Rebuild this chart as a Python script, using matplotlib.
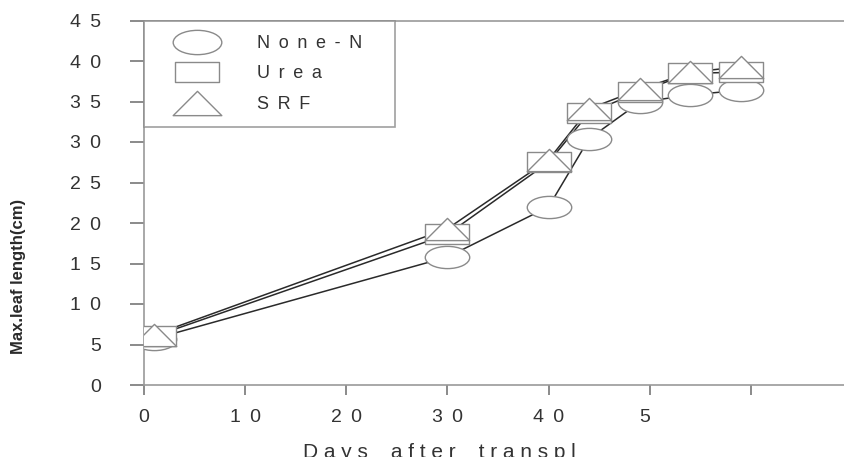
import matplotlib
matplotlib.use("Agg")
import matplotlib.pyplot as plt
from matplotlib.path import Path
from matplotlib.transforms import Affine2D
from matplotlib.lines import Line2D

# data
days = [1, 30, 40, 44, 49, 54, 59]
none_n = [5.7, 15.8, 22.0, 30.4, 34.9, 35.8, 36.4]
urea = [6.0, 18.6, 27.5, 33.6, 36.2, 38.5, 38.6]
srf = [6.2, 19.3, 27.8, 34.1, 36.5, 38.6, 39.3]

SP = " \u2009"  # wide letter spacing of the original
series_names = [SP.join("None-N"), SP.join("Urea"), SP.join("SRF")]

x_ticks = [0, 10, 20, 30, 40, 50, 60]
x_ticklabels = ["0", "1" + SP + "0", "2" + SP + "0", "3" + SP + "0", "4" + SP + "0", "5", ""]
y_ticks = [0, 5, 10, 15, 20, 25, 30, 35, 40, 45]
y_ticklabels = ["0", "5"] + [a + SP + b for a, b in
                             ["10", "15", "20", "25", "30", "35", "40", "45"]]

plt.rcParams["font.family"] = ["Liberation Sans", "DejaVu Sans"]

# flattened marker shapes
ellipse = Path.unit_circle().transformed(Affine2D().scale(1.0, 0.5))
rect = Path.unit_rectangle().transformed(Affine2D().translate(-0.5, -0.5).scale(1.0, 0.46))
tri = Path([(-0.5, -0.25), (0.5, -0.25), (0.0, 0.25), (-0.5, -0.25)],
           [Path.MOVETO, Path.LINETO, Path.LINETO, Path.CLOSEPOLY])

EDGE = "#8a8a8a"
LINE = "#2a2a2a"
TXT = "#333333"

fig = plt.figure(figsize=(8.45, 4.57), dpi=100)
ax = fig.add_axes([144 / 845, 1 - 385 / 457, 1 - 144 / 845, (385 - 20.5) / 457])

for vals, mk, z in [(none_n, ellipse, 3), (urea, rect, 4), (srf, tri, 5)]:
    ax.plot(days, vals, color=LINE, lw=1.1, zorder=2)
    ax.plot(days, vals, ls="none", marker=mk, ms=32, mfc="white",
            mec=EDGE, mew=1.0, zorder=z)

ax.set_xlim(0, 69.3)
ax.set_ylim(0, 45)
ax.set_xticks(x_ticks)
ax.set_xticklabels(x_ticklabels)
ax.set_yticks(y_ticks)
ax.set_yticklabels(y_ticklabels)
ax.xaxis.get_ticklabels()[5].set_horizontalalignment("right")

for side in ["left", "bottom", "top"]:
    ax.spines[side].set_color("#999999")
    ax.spines[side].set_linewidth(1.2)
ax.spines["right"].set_visible(False)
ax.tick_params(axis="y", length=10, width=1.2, color="#777777", pad=21,
               labelsize=14, labelcolor=TXT)
ax.tick_params(axis="x", length=7, width=1.2, color="#777777", pad=10,
               labelsize=14, labelcolor=TXT)

handles = [
    Line2D([], [], ls="none", marker=ellipse, ms=35, mfc="white", mec=EDGE),
    Line2D([], [], ls="none", marker=rect, ms=31, mfc="white", mec=EDGE),
    Line2D([], [], ls="none", marker=tri, ms=35, mfc="white", mec=EDGE),
]
leg = ax.legend(handles, series_names, loc="upper left",
                bbox_to_anchor=(0, 1, 251 / 701, 0), mode="expand",
                borderaxespad=0, frameon=True, fancybox=False, fontsize=13,
                labelspacing=0.75, handlelength=4.29, handletextpad=1.19,
                borderpad=0.8, labelcolor=TXT)
leg.get_frame().set_edgecolor("#888888")
leg.get_frame().set_linewidth(1.2)

fig.text(19 / 845, 1 - 276 / 457, "Max.leaf length(cm)", rotation=90,
         ha="center", va="center", fontsize=12, fontweight="bold", color="#2a2a2a")
fig.text(303 / 845, 1 - 458 / 457, "D a y s    a f t e r    t r a n s p l",
         ha="left", va="baseline", fontsize=15, color=TXT)

fig.savefig("out.png", dpi=100)
